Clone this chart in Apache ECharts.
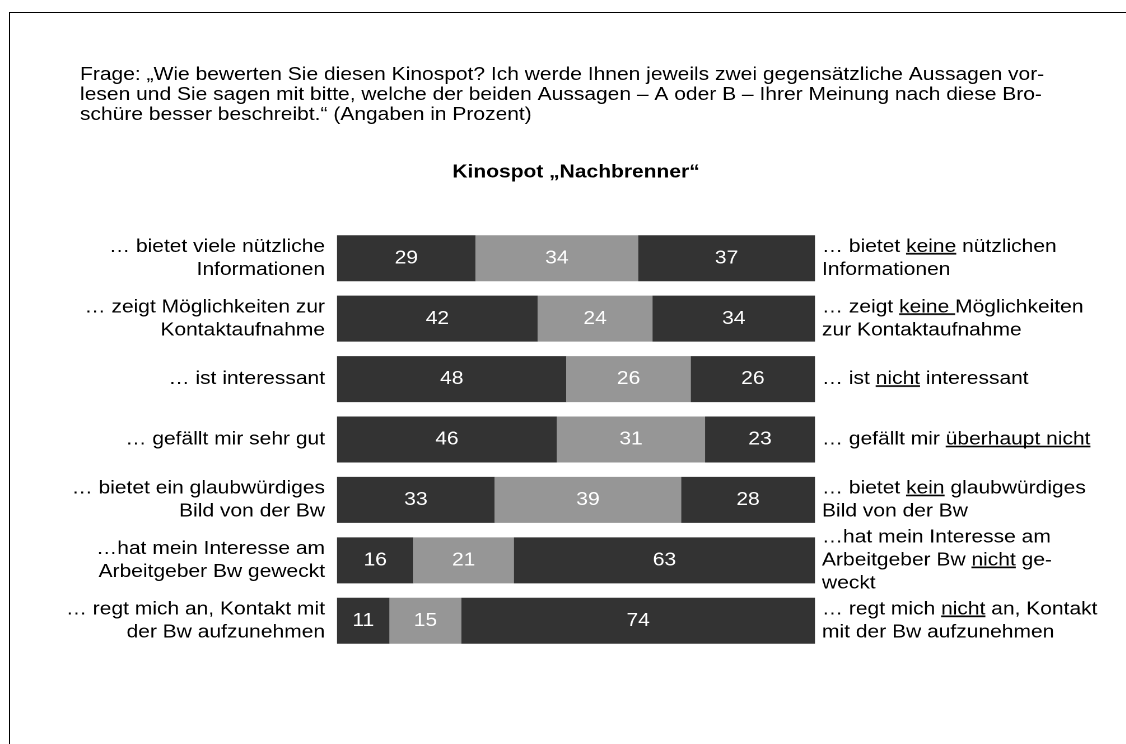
<!DOCTYPE html>
<html>
<head>
<meta charset="utf-8">
<script src="https://cdn.jsdelivr.net/npm/echarts@6/dist/echarts.min.js"></script>
<style>
  html, body {margin: 0; padding: 0; background: #fff; overflow: hidden;}
  #wrap {position: relative; width: 1126px; height: 744px; overflow: hidden;}
  /* the source figure is set in a horizontally widened sans, so the chart is
     drawn narrower and stretched back out */
  #chart {width: 1006px; height: 744px; transform-origin: 0 0; transform: scaleX(1.12);}
  #frame {position: absolute; left: 9px; top: 12px; right: 0; bottom: 0;
          border-left: 1px solid #000; border-top: 1px solid #000; pointer-events: none;}
</style>
</head>
<body>
<div id="wrap">
  <div id="chart"></div>
  <div id="frame"></div>
</div>
<script>
// Kinospot "Nachbrenner": A vs. B statements, shares in percent.
const QUESTION = "Frage: „Wie bewerten Sie diesen Kinospot? Ich werde Ihnen jeweils zwei gegensätzliche Aussagen vor-\n" +
  "lesen und Sie sagen mit bitte, welche der beiden Aussagen – A oder B – Ihrer Meinung nach diese Bro-\n" +
  "schüre besser beschreibt.“ (Angaben in Prozent)"
const TITLE = "Kinospot „Nachbrenner“"

const leftLabels = [
  "… bietet viele nützliche\nInformationen",
  "… zeigt Möglichkeiten zur\nKontaktaufnahme",
  "… ist interessant",
  "… gefällt mir sehr gut",
  "… bietet ein glaubwürdiges\nBild von der Bw",
  "…hat mein Interesse am\nArbeitgeber Bw geweckt",
  "… regt mich an, Kontakt mit\nder Bw aufzunehmen",
]
// {u|...} marks the underlined words
const rightLabels = [
  "… bietet {u|keine} nützlichen\nInformationen",
  "… zeigt {u|keine }Möglichkeiten\nzur Kontaktaufnahme",
  "… ist {u|nicht} interessant",
  "… gefällt mir {u|überhaupt nicht}",
  "… bietet {u|kein} glaubwürdiges\nBild von der Bw",
  "…hat mein Interesse am\nArbeitgeber Bw {u|nicht} ge-\nweckt",
  "… regt mich {u|nicht} an, Kontakt\nmit der Bw aufzunehmen",
]
const statementA = [29, 42, 48, 46, 33, 16, 11]
const undecided = [34, 24, 26, 31, 39, 21, 15]
const statementB = [37, 34, 26, 23, 28, 63, 74]

const SX = 1.12 // horizontal stretch applied in css
const DARK = "#333333"
const GREY = "#969696"
const FONT = "Liberation Sans, Arial, sans-serif"
const LABEL_SIZE = 18.75
const LINE_H = 23

// rich text has no underline, so paint one as a stretched background image
const makeUnderline = () => {
  const c = document.createElement("canvas")
  c.width = 1
  c.height = LINE_H
  const ctx = c.getContext("2d")
  ctx.fillStyle = "#000"
  ctx.fillRect(0, LINE_H - 4, 1, 2)
  return c
}

const chart = echarts.init(document.getElementById("chart"), null, {devicePixelRatio: 2})

const barSeries = (name, data, color) => ({
  name,
  type: "bar",
  stack: "all",
  data,
  barWidth: 46,
  itemStyle: {color},
  label: {
    show: true,
    position: "inside",
    color: "#fff",
    fontFamily: FONT,
    fontSize: LABEL_SIZE,
  },
})

chart.setOption({
  animation: false,
  textStyle: {fontFamily: FONT},
  title: [
    {
      text: QUESTION,
      left: 80 / SX,
      top: 65,
      padding: 0,
      textStyle: {fontFamily: FONT, fontSize: LABEL_SIZE, fontWeight: "normal", color: "#000", lineHeight: 20},
    },
    {
      text: TITLE,
      left: 576 / SX,
      textAlign: "center",
      top: 163,
      padding: 0,
      textStyle: {fontFamily: FONT, fontSize: LABEL_SIZE, fontWeight: "bold", color: "#000"},
    },
  ],
  grid: {left: 337 / SX, width: 478 / SX, top: 228, height: 423},
  xAxis: {type: "value", min: 0, max: 100, show: false},
  yAxis: [
    {
      type: "category",
      data: leftLabels,
      inverse: true,
      position: "left",
      axisLine: {show: false},
      axisTick: {show: false},
      axisLabel: {
        margin: 12 / SX,
        align: "right",
        color: "#000",
        fontFamily: FONT,
        fontSize: LABEL_SIZE,
        lineHeight: LINE_H,
      },
    },
    {
      type: "category",
      data: rightLabels,
      inverse: true,
      position: "right",
      axisLine: {show: false},
      axisTick: {show: false},
      axisLabel: {
        margin: 7 / SX,
        align: "left",
        color: "#000",
        fontFamily: FONT,
        fontSize: LABEL_SIZE,
        lineHeight: LINE_H,
        rich: {
          u: {
            color: "#000",
            fontFamily: FONT,
            fontSize: LABEL_SIZE,
            lineHeight: LINE_H,
            backgroundColor: {image: makeUnderline()},
          },
        },
      },
    },
  ],
  series: [
    barSeries("A", statementA, DARK),
    barSeries("weder noch", undecided, GREY),
    barSeries("B", statementB, DARK),
  ],
})
</script>
</body>
</html>
